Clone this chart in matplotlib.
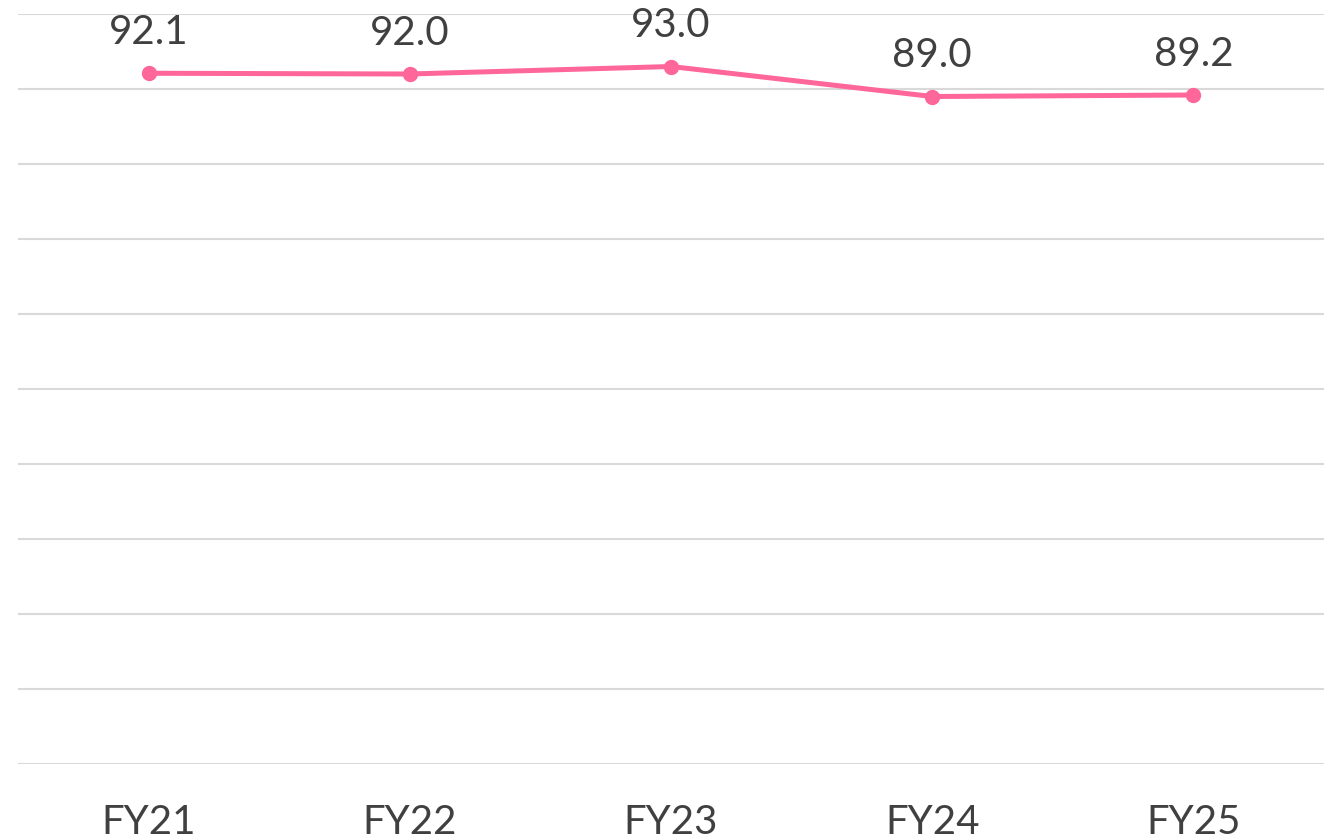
import matplotlib
matplotlib.use('Agg')
import matplotlib.pyplot as plt

years = ['FY21', 'FY22', 'FY23', 'FY24', 'FY25']
values = [92.1, 92.0, 93.0, 89.0, 89.2]
labels = ['92.1', '92.0', '93.0', '89.0', '89.2']

plt.rcParams['font.family'] = ['Lato', 'DejaVu Sans']

fig = plt.figure(figsize=(13.35, 8.37), dpi=100)
ax = fig.add_axes([18 / 1335, 1 - 765 / 837, (1324 - 18) / 1335, (765 - 15) / 837])

x = list(range(len(years)))
ax.plot(x, values, color='#FF6699', lw=3.6, marker='o', ms=10, zorder=3)
for xi, v, t in zip(x, values, labels):
    ax.annotate(t, (xi, v), xytext=(0, 30), textcoords='offset points',
                ha='center', va='center', fontsize=29, color='#404040')

ax.set_xlim(-0.5, 4.5)
ax.set_ylim(0, 100)
ax.set_yticks(range(0, 101, 10))
ax.set_yticklabels([])
ax.set_xticks(x)
ax.set_xticklabels(years, fontsize=29, color='#404040')
ax.tick_params(axis='both', length=0)
ax.tick_params(axis='x', pad=28)
ax.grid(axis='y', color='#D9D9D9', lw=1.5)
ax.set_axisbelow(True)
for s in ax.spines.values():
    s.set_visible(False)

fig.savefig('out.png', dpi=100)
